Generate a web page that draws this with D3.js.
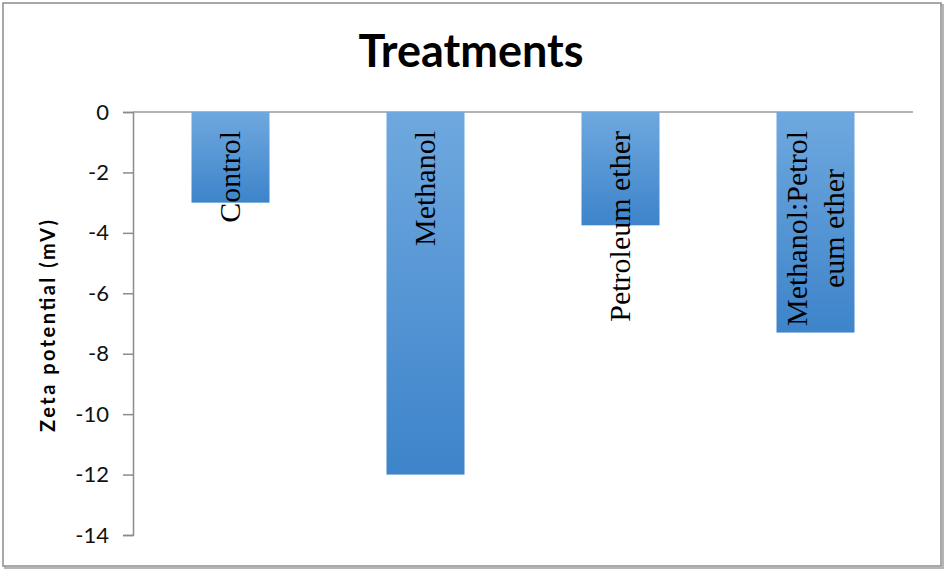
<!DOCTYPE html>
<html>
<head>
<meta charset="utf-8">
<script src="https://cdn.jsdelivr.net/npm/d3@7"></script>
<style>
  body { margin: 0; background: #fff; }
  svg { display: block; }
</style>
</head>
<body>
<div id="chart"></div>
<script>
const width = 946, height = 570;

// data
const categories = ['Control', 'Methanol', 'Petroleum ether', 'Methanol:Petroleum ether'];
const labelLines = [['Control'], ['Methanol'], ['Petroleum ether'], ['Methanol:Petrol', 'eum ether']];
const values = [-3.0, -12.0, -3.75, -7.3];
const yTicks = [0, -2, -4, -6, -8, -10, -12, -14];

const plot = {left: 133, right: 913, top: 112, bottom: 535};

const svg = d3.select('#chart').append('svg')
  .attr('width', width)
  .attr('height', height);

// gradient fill like the office bars
const grad = svg.append('defs').append('linearGradient')
  .attr('id', 'barGrad')
  .attr('x1', 0).attr('y1', 0).attr('x2', 0).attr('y2', 1);
grad.append('stop').attr('offset', '0%').attr('stop-color', '#6fa8df');
grad.append('stop').attr('offset', '100%').attr('stop-color', '#3d84ca');

// chart frame with a little shadow
svg.append('rect')
  .attr('x', 5).attr('y', 5).attr('width', 938).attr('height', 563)
  .attr('fill', 'none').attr('stroke', '#b5b5b5').attr('stroke-width', 2);
svg.append('rect')
  .attr('x', 3).attr('y', 3).attr('width', 938).attr('height', 563)
  .attr('fill', '#fff').attr('stroke', '#8c8c8c').attr('stroke-width', 1.5);

const x = d3.scaleBand()
  .domain(categories)
  .range([plot.left, plot.right])
  .paddingInner(0.6)
  .paddingOuter(0.3);

const y = d3.scaleLinear()
  .domain([0, -14])
  .range([plot.top, plot.bottom]);

// category axis line at zero
svg.append('line')
  .attr('x1', plot.left).attr('x2', plot.right)
  .attr('y1', y(0)).attr('y2', y(0))
  .attr('stroke', '#9a9a9a').attr('stroke-width', 1.5);

// bars
svg.selectAll('rect.bar')
  .data(values)
  .join('rect')
  .attr('class', 'bar')
  .attr('x', (d, i) => x(categories[i]))
  .attr('y', y(0))
  .attr('width', x.bandwidth())
  .attr('height', d => y(d) - y(0))
  .attr('fill', 'url(#barGrad)');

// y axis
const yAxis = d3.axisLeft(y)
  .tickValues(yTicks)
  .tickSize(10)
  .tickPadding(14)
  .tickFormat(d => d === 0 ? '0' : '-' + Math.abs(d));

const ax = svg.append('g')
  .attr('transform', `translate(${plot.left},0)`)
  .call(yAxis);
ax.select('.domain').attr('stroke', '#8c8c8c').attr('stroke-width', 1.5);
ax.selectAll('.tick line').attr('stroke', '#8c8c8c').attr('stroke-width', 1.5);
ax.selectAll('.tick text')
  .attr('font-family', 'Lato, "Open Sans", sans-serif')
  .attr('font-size', 22)
  .attr('fill', '#111');

// category labels, rotated, sitting inside the bars
const fontSize = 30, lineH = 37;
labelLines.forEach((lines, i) => {
  const cx = x(categories[i]) + x.bandwidth() / 2;
  const t = svg.append('text')
    .attr('font-family', '"Liberation Serif", "Times New Roman", serif')
    .attr('font-size', fontSize)
    .attr('fill', '#000')
    .attr('text-anchor', 'middle');
  lines.forEach((ln, k) => {
    t.append('tspan')
      .attr('x', 0)
      .attr('y', (k - (lines.length - 1) / 2) * lineH + fontSize * 0.33)
      .text(ln);
  });
  const L = d3.max(t.selectAll('tspan').nodes(), n => n.getComputedTextLength());
  t.attr('transform', `translate(${cx},${131 + L / 2}) rotate(-90)`);
});

// title
svg.append('text')
  .attr('x', 471).attr('y', 67)
  .attr('text-anchor', 'middle')
  .attr('font-family', 'Lato, "Open Sans", sans-serif')
  .attr('font-weight', 'bold')
  .attr('font-size', 45)
  .text('Treatments');

// y axis title
svg.append('text')
  .attr('transform', 'translate(55,326) rotate(-90)')
  .attr('text-anchor', 'middle')
  .attr('font-family', 'Lato, "Open Sans", sans-serif')
  .attr('font-weight', 'bold')
  .attr('font-size', 20)
  .attr('textLength', 212)
  .attr('lengthAdjust', 'spacing')
  .text('Zeta potential (mV)');
</script>
</body>
</html>
